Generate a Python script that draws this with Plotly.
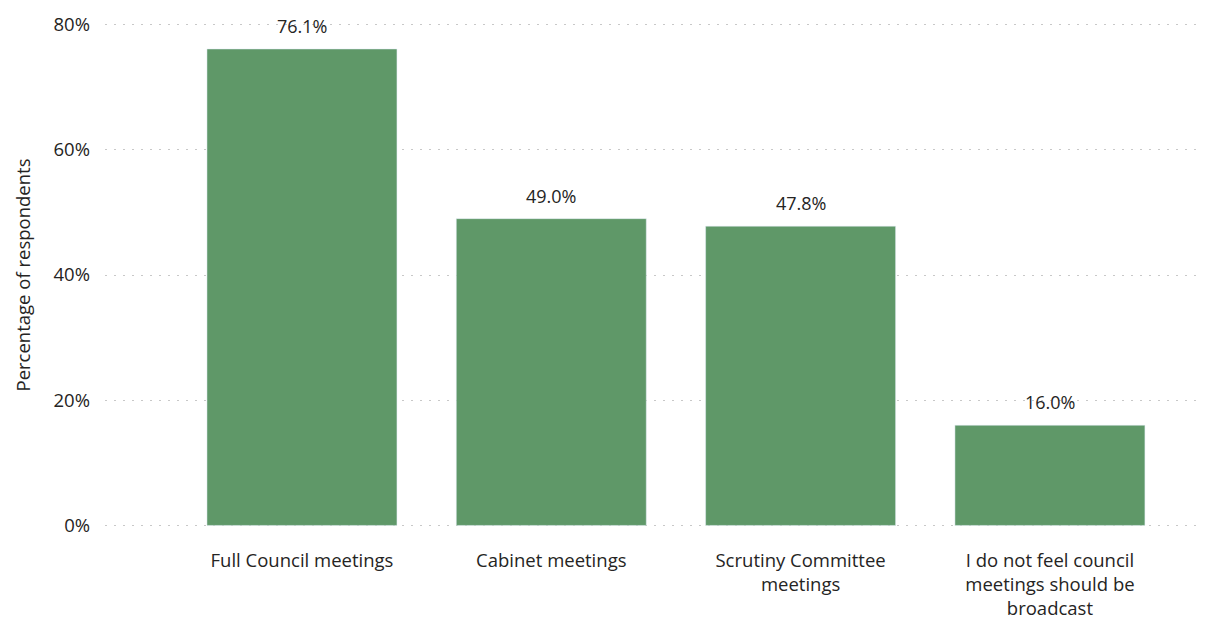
import plotly.graph_objects as go

categories = ["Full Council meetings", "Cabinet meetings", "Scrutiny Committee<br>meetings",
              "I do not feel council<br>meetings should be<br>broadcast"]
values = [76.1, 49.0, 47.8, 16.0]
labels = ["76.1%", "49.0%", "47.8%", "16.0%"]

xs = list(range(len(categories)))
fig = go.Figure(go.Bar(
    x=xs, y=values, marker_color="#5F9868", width=0.762,
))
for x, v, t in zip(xs, values, labels):
    fig.add_annotation(x=x, y=v, text=t, showarrow=False, yanchor="bottom", yshift=9,
                       font=dict(size=18, color="#252423"))
fig.update_layout(
    width=1210, height=621, plot_bgcolor="white", paper_bgcolor="white",
    margin=dict(l=97, r=11, t=15, b=102),
    font=dict(family="Open Sans, Noto Sans, sans-serif", size=18, color="#252423"),
    showlegend=False,
)
fig.update_xaxes(tickvals=xs, ticktext=categories, automargin=False,
                 range=[-0.79, 3.63], showgrid=False, zeroline=False, showline=False,
                 ticks="", ticklabelstandoff=20, tickfont=dict(size=18.5))
fig.update_yaxes(range=[-0.25, 80.25], tickvals=[0, 20, 40, 60, 80],
                 ticktext=["0%", "20%", "40%", "60%", "80%"], automargin=False,
                 showgrid=True, gridcolor="#C8C8C8", griddash="2px,7px", gridwidth=1.2,
                 zeroline=False, showline=False, ticks="", ticklabelstandoff=14,
                 tickfont=dict(size=18.5),
                 title=dict(text="Percentage of respondents", font=dict(size=18.5), standoff=18))
fig.write_html("out.html")
